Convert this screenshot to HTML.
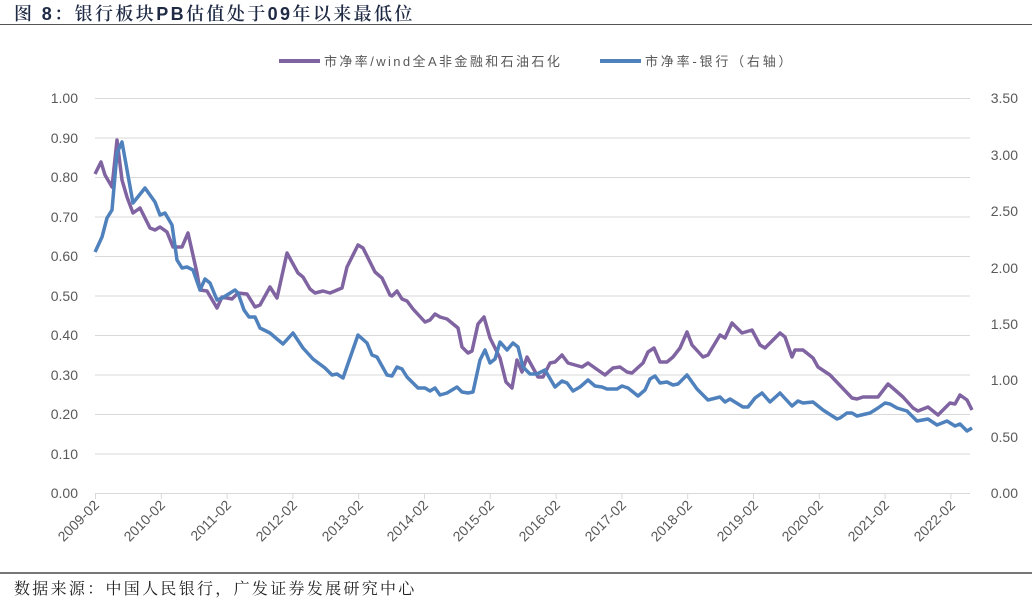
<!DOCTYPE html>
<html><head><meta charset="utf-8"><style>
body{margin:0;background:#fff;width:1032px;height:598px;overflow:hidden;}
svg text{font-family:"Liberation Sans","Noto Sans CJK SC",sans-serif;}
</style></head><body>
<svg width="1032" height="598" viewBox="0 0 1032 598" xmlns="http://www.w3.org/2000/svg">
<text x="14" y="20" font-size="18" fill="#1f2a44" letter-spacing="2.4" style="font-family:'Liberation Sans','Noto Serif CJK SC',serif;font-weight:600">图 8：银行板块PB估值处于09年以来最低位</text>
<line x1="0" y1="24.5" x2="1032" y2="24.5" stroke="#555" stroke-width="1"/>
<g stroke="#d9d9d9" stroke-width="1">
<line x1="95" y1="98.5" x2="970" y2="98.5"/><line x1="95" y1="138" x2="970" y2="138"/>
<line x1="95" y1="177.5" x2="970" y2="177.5"/><line x1="95" y1="217" x2="970" y2="217"/>
<line x1="95" y1="256.5" x2="970" y2="256.5"/><line x1="95" y1="296" x2="970" y2="296"/>
<line x1="95" y1="335.5" x2="970" y2="335.5"/><line x1="95" y1="375" x2="970" y2="375"/>
<line x1="95" y1="414.5" x2="970" y2="414.5"/><line x1="95" y1="454" x2="970" y2="454"/>
<line x1="95" y1="493.5" x2="970" y2="493.5"/>
</g>
<g stroke="#d9d9d9" stroke-width="1">
<line x1="95.5" y1="493" x2="95.5" y2="499"/><line x1="161.3" y1="493" x2="161.3" y2="499"/>
<line x1="227.1" y1="493" x2="227.1" y2="499"/><line x1="292.9" y1="493" x2="292.9" y2="499"/>
<line x1="358.7" y1="493" x2="358.7" y2="499"/><line x1="424.5" y1="493" x2="424.5" y2="499"/>
<line x1="490.3" y1="493" x2="490.3" y2="499"/><line x1="556.1" y1="493" x2="556.1" y2="499"/>
<line x1="621.9" y1="493" x2="621.9" y2="499"/><line x1="687.7" y1="493" x2="687.7" y2="499"/>
<line x1="753.5" y1="493" x2="753.5" y2="499"/><line x1="819.3" y1="493" x2="819.3" y2="499"/>
<line x1="885.1" y1="493" x2="885.1" y2="499"/><line x1="950.9" y1="493" x2="950.9" y2="499"/>
</g>
<g font-size="14" fill="#595959" text-anchor="end">
<text x="78" y="103">1.00</text><text x="78" y="143">0.90</text><text x="78" y="182">0.80</text>
<text x="78" y="222">0.70</text><text x="78" y="261">0.60</text><text x="78" y="301">0.50</text>
<text x="78" y="340">0.40</text><text x="78" y="380">0.30</text><text x="78" y="419">0.20</text>
<text x="78" y="459">0.10</text><text x="78" y="498">0.00</text>
</g>
<g font-size="14" fill="#595959" text-anchor="end">
<text x="1018" y="103">3.50</text><text x="1018" y="160">3.00</text><text x="1018" y="216">2.50</text>
<text x="1018" y="273">2.00</text><text x="1018" y="329">1.50</text><text x="1018" y="385">1.00</text>
<text x="1018" y="442">0.50</text><text x="1018" y="498">0.00</text>
</g>
<g font-size="14" fill="#595959" text-anchor="end">
<text transform="translate(100,506) rotate(-45)">2009-02</text>
<text transform="translate(166,506) rotate(-45)">2010-02</text>
<text transform="translate(232,506) rotate(-45)">2011-02</text>
<text transform="translate(298,506) rotate(-45)">2012-02</text>
<text transform="translate(364,506) rotate(-45)">2013-02</text>
<text transform="translate(429,506) rotate(-45)">2014-02</text>
<text transform="translate(495,506) rotate(-45)">2015-02</text>
<text transform="translate(561,506) rotate(-45)">2016-02</text>
<text transform="translate(627,506) rotate(-45)">2017-02</text>
<text transform="translate(693,506) rotate(-45)">2018-02</text>
<text transform="translate(759,506) rotate(-45)">2019-02</text>
<text transform="translate(824,506) rotate(-45)">2020-02</text>
<text transform="translate(890,506) rotate(-45)">2021-02</text>
<text transform="translate(956,506) rotate(-45)">2022-02</text>
</g>
<line x1="279" y1="61" x2="320" y2="61" stroke="#8064a2" stroke-width="4"/>
<text x="324" y="66" font-size="13" fill="#595959" letter-spacing="2.4">市净率/wind全A非金融和石油石化</text>
<line x1="600" y1="61" x2="641" y2="61" stroke="#4f81bd" stroke-width="4"/>
<text x="645" y="66" font-size="13" fill="#595959" letter-spacing="2.8">市净率-银行（右轴）</text>
<polyline fill="none" stroke="#8064a2" stroke-width="3.5" stroke-linejoin="round" points="95,174 96,172 101,162 105,175 112,187 117,140 122,180 127,197 133,213 140,208 150,228 155,230 160,227 167,232 173,247 182,247 188,233 197,273 200,290 207,291 217,308 222,297 232,299 238,293 247,294 255,307 260,305 270,287 277,298 287,253 298,273 303,277 310,289 315,293 323,291 330,293 342,288 347,267 358,245 363,248 375,272 382,278 390,295 392,296 397,291 402,299 407,301 413,309 425,322 430,320 435,314 440,317 447,319 458,328 462,347 468,353 472,351 478,324 484,317 490,338 500,358 506,382 512,388 517,360 522,372 527,357 538,377 543,377 550,363 555,362 562,355 568,363 582,367 588,363 595,368 605,375 613,368 620,367 627,372 632,373 643,363 648,352 654,348 660,362 667,362 673,357 680,348 687,332 692,345 703,357 708,355 720,335 725,338 732,323 742,333 752,330 760,345 765,348 780,333 785,337 792,357 795,350 803,350 813,358 818,367 830,375 852,398 857,399 863,397 878,397 888,384 895,390 903,397 913,408 918,411 928,407 938,415 950,403 955,404 960,395 967,400 972,410"/>
<polyline fill="none" stroke="#4f81bd" stroke-width="3.5" stroke-linejoin="round" points="95,252 96,250 102,237 107,218 112,210 117,153 122,142 133,203 145,188 155,202 160,215 165,213 172,225 177,260 182,268 187,267 193,270 200,290 205,279 210,283 217,300 222,298 227,295 235,290 238,293 244,310 249,317 255,317 260,328 270,333 277,339 283,344 293,333 303,348 313,359 325,368 332,375 337,374 343,378 358,335 367,343 372,355 377,357 387,375 392,376 397,367 402,369 407,377 413,383 418,388 425,388 430,391 435,388 440,395 447,393 457,387 462,392 468,393 473,392 480,360 485,350 490,363 495,359 500,342 507,350 513,343 518,347 523,367 530,374 537,374 545,370 555,387 562,381 567,383 573,391 580,387 588,380 595,386 602,387 607,389 617,389 622,386 628,388 638,396 645,390 650,379 655,376 660,383 667,382 673,385 678,384 687,375 697,389 708,400 720,397 725,402 730,399 743,407 748,407 755,398 762,393 770,402 780,393 792,406 798,401 803,403 813,402 823,410 837,419 840,418 847,413 852,413 857,416 870,413 878,408 885,403 890,404 897,408 907,411 917,421 928,419 937,425 947,421 955,426 960,424 967,431 972,428"/>
<line x1="0" y1="573" x2="1032" y2="573" stroke="#777" stroke-width="2"/>
<text x="14" y="594" font-size="16" fill="#222" letter-spacing="2.3" style="font-family:'Liberation Sans','Noto Serif CJK SC',serif">数据来源：中国人民银行，广发证券发展研究中心</text>
</svg>
</body></html>
